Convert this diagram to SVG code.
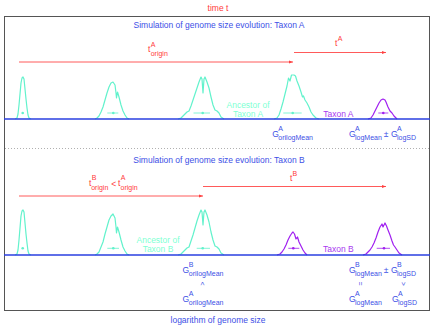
<svg xmlns="http://www.w3.org/2000/svg" width="436" height="328" viewBox="0 0 436 328">
<style>
text { font-family: "Liberation Sans", Arial, Helvetica, sans-serif; }
.t { font-size: 8.5px; }
.bl { fill: #3d4fe6; }
.rd { fill: #ff3a3a; }
.aq { fill: #7fffd4; }
.pu { fill: #a838f0; }
.m { font-size: 8.5px; }
.s { font-size: 7px; }
.arrow { stroke: #ff5a5a; stroke-width: 1; fill: none; marker-end: url(#ah); }
.pkA { fill: none; stroke: #62f2cc; stroke-width: 1.2; stroke-linejoin: round; }
.pkP { fill: none; stroke: #a020f0; stroke-width: 1.2; stroke-linejoin: round; }
.barA { stroke: #62f2cc; stroke-width: 0.8; }
.barP { stroke: #a020f0; stroke-width: 0.8; }
.dotA { fill: #62f2cc; }
.dotP { fill: #a020f0; }
.base { stroke: #2a3fe0; stroke-width: 1.6; }
</style>
<defs>
<marker id="ah" markerUnits="userSpaceOnUse" markerWidth="5" markerHeight="4" refX="4.5" refY="1.6" orient="auto">
<path d="M0,0 L4.5,1.6 L0,3.2 z" fill="#ff4040"/>
</marker>
</defs>
<rect width="436" height="328" fill="#ffffff"/>
<text class="t rd" x="218" y="11" text-anchor="middle">time t</text>
<rect x="4.5" y="16.5" width="425" height="294" fill="none" stroke="#555" stroke-width="1"/>
<line x1="5" y1="148.5" x2="429" y2="148.5" stroke="#b0b0b0" stroke-width="1" stroke-dasharray="1 2"/>

<g id="panel-a">
<text class="t bl" x="219" y="27.5" text-anchor="middle">Simulation of genome size evolution: Taxon A</text>
<g transform="translate(0,119)">
<polyline class="pkA" points="15,0 17,-1 18,-5 19,-14 20,-25 21,-36 22,-41 23,-42 24,-40 25,-30 26,-20 27,-11 28,-4 29,-1 31,0"/>
<polyline class="pkA" points="95,0 97,-1 99,-3 101,-7 103,-12 105,-19 107,-26 109,-32 111,-36 113,-37 115,-34 116,-26 116.5,-21 117.5,-27 119,-22 121,-14 123,-8 125,-4 127,-1 129,0"/>
<polyline class="pkA" points="178,0 181,-1 184,-4 187,-7 189,-8 191,-13 193,-19 195,-25 197,-31 199,-37 201,-42 202,-40 203,-26 204,-40 205,-42 207,-37 209,-31 211,-22 213,-14 215,-9 217,-8 219,-6 221,-2 224,0"/>
<polyline class="pkA" points="274,0 277,-1 279,-4 281,-10 283,-17 285,-25 287,-33 288.5,-41 290,-38 291.5,-44 294,-44 295.5,-43 297,-38 299,-33 301,-27 302.5,-22 303.5,-23 305,-19 307,-16 309,-12 311,-7 313,-4 316,-1 319,0"/>
<polyline class="pkP" points="368,0 371,-1 373,-4 375,-8 377,-12 379,-16 381,-19 383,-20 385,-19 386,-17 388,-12 390,-8 392,-6 394,-3 397,0"/>
<g transform="translate(0,-6)">
<circle class="dotA" cx="22.7" cy="0" r="1.3"/>
<line class="barA" x1="107.3" y1="0" x2="118.3" y2="0"/><circle class="dotA" cx="113.3" cy="0" r="1.3"/>
<line class="barA" x1="193.5" y1="0" x2="210" y2="0"/><circle class="dotA" cx="202.7" cy="0" r="1.3"/>
<line class="barA" x1="283.3" y1="0" x2="301.7" y2="0"/><circle class="dotA" cx="292.7" cy="0" r="1.3"/>
<line class="barP" x1="378.3" y1="0" x2="388.3" y2="0"/><circle class="dotP" cx="383.3" cy="0" r="1.3"/>
</g>
</g>
<text class="t aq" x="248" y="107.5" text-anchor="middle">Ancestor of</text>
<text class="t aq" x="248" y="116.5" text-anchor="middle">Taxon A</text>
<text class="t pu" x="338.3" y="116.5" text-anchor="middle">Taxon A</text>
<line class="base" x1="4" y1="119" x2="430" y2="119"/>
</g>

<g id="panel-b">
<text class="t bl" x="219" y="163" text-anchor="middle">Simulation of genome size evolution: Taxon B</text>
<g transform="translate(0,255)">
<polyline class="pkA" points="15,0 17,-1 18,-5 19,-15 20,-27 21,-39 22,-44 23,-45 24,-43 25,-32 26,-21 27,-12 28,-4 29,-1 31,0"/>
<polyline class="pkA" points="95,0 97,-1 99,-3 101,-8 103,-13 105,-21 107,-28 109,-35 111,-39 113,-41 115,-37 116,-28 116.5,-22 117.5,-28 119,-23 121,-15 123,-8 125,-4 127,-1 129,0"/>
<polyline class="pkA" points="178,0 181,-1 184,-4 187,-7 189,-8 191,-14 193,-20 195,-27 197,-34 199,-40 201,-45 202,-43 203,-30 204,-43 205,-45 207,-40 209,-33 211,-23 213,-15 215,-9 217,-8 219,-6 221,-2 224,0"/>
<polyline class="pkP" points="277,0 280,-1 282,-3 284,-6 286,-10 288,-15 290,-19 292,-22 293,-23 294.5,-21 296,-16 297.5,-18 299,-13 301,-9 303,-5 305,-2 307,0"/>
<polyline class="pkP" points="363,0 366,-1 368,-3 370,-5 372,-8 374,-12 376,-17 378,-23 380,-28 382,-31 383,-28 384,-30 385,-32 386.5,-29 388,-25 390,-20 392,-14 393.5,-10 395,-8 397,-5 399,-2 402,0"/>
<g transform="translate(0,-6.7)">
<circle class="dotA" cx="22.7" cy="0" r="1.3"/>
<line class="barA" x1="107.3" y1="0" x2="119" y2="0"/><circle class="dotA" cx="113.3" cy="0" r="1.3"/>
<line class="barA" x1="196.7" y1="0" x2="210" y2="0"/><circle class="dotA" cx="202.7" cy="0" r="1.3"/>
<line class="barP" x1="288.3" y1="0" x2="299.3" y2="0"/><circle class="dotP" cx="293.3" cy="0" r="1.3"/>
<line class="barP" x1="376.7" y1="0" x2="390" y2="0"/><circle class="dotP" cx="384" cy="0" r="1.3"/>
</g>
</g>
<text class="t aq" x="158" y="242.7" text-anchor="middle">Ancestor of</text>
<text class="t aq" x="158" y="251.8" text-anchor="middle">Taxon B</text>
<text class="t pu" x="338.3" y="251.7" text-anchor="middle">Taxon B</text>
<line class="base" x1="4" y1="255" x2="430" y2="255"/>
</g>

<g id="connectors">
<line class="arrow" x1="19" y1="62" x2="293" y2="62"/>
<line class="arrow" x1="294" y1="52.5" x2="386" y2="52.5"/>
<line class="arrow" x1="19" y1="196" x2="203" y2="196"/>
<line class="arrow" x1="203" y1="186.5" x2="386" y2="186.5"/>
</g>

<g id="time-labels" class="rd">
<text class="m" x="148" y="52">t</text><text class="s" x="150.7" y="47">A</text><text class="s" x="150.7" y="55.5">origin</text>
<text class="m" x="335" y="45.5">t</text><text class="s" x="337.8" y="40.5">A</text>
<text class="m" x="89" y="186">t</text><text class="s" x="91.7" y="180">B</text><text class="s" x="91.2" y="189.8">origin</text>
<text class="m" x="111.3" y="186.5">&lt;</text>
<text class="m" x="118" y="186">t</text><text class="s" x="120.7" y="180">A</text><text class="s" x="120.5" y="189.8">origin</text>
<text class="m" x="290" y="181">t</text><text class="s" x="292.6" y="175.5">B</text>
</g>

<g id="size-labels" class="bl">
<text class="m" x="272.3" y="136.5">G</text><text class="s" x="278.3" y="130.5">A</text><text class="s" x="278.3" y="139.8">orilogMean</text>
<text class="m" x="349" y="136.5">G</text><text class="s" x="355" y="130.5">A</text><text class="s" x="355" y="139.8">logMean</text>
<text class="m" x="383.8" y="136.5">±</text>
<text class="m" x="391" y="136.5">G</text><text class="s" x="397" y="130.5">A</text><text class="s" x="397" y="139.8">logSD</text>

<text class="m" x="182.5" y="272.5">G</text><text class="s" x="188.8" y="266.5">B</text><text class="s" x="188.8" y="276">orilogMean</text>
<text class="m" x="349" y="272.5">G</text><text class="s" x="355" y="266.5">B</text><text class="s" x="355" y="276">logMean</text>
<text class="m" x="383.8" y="272.5">±</text>
<text class="m" x="391" y="272.5">G</text><text class="s" x="397" y="266.5">B</text><text class="s" x="397" y="276">logSD</text>

<text style="font-size:6.5px" x="202" y="283.7" text-anchor="middle" dominant-baseline="central" transform="rotate(90 202 283.7)">&lt;</text>
<text style="font-size:6.5px" x="360.5" y="283.7" text-anchor="middle" dominant-baseline="central" transform="rotate(90 360.5 283.7)">=</text>
<text style="font-size:6.5px" x="403.3" y="283.9" text-anchor="middle" dominant-baseline="central" transform="rotate(90 403.3 283.9)">&gt;</text>

<text class="m" x="182.5" y="301.5">G</text><text class="s" x="188.8" y="295.5">A</text><text class="s" x="188.8" y="305">orilogMean</text>
<text class="m" x="349" y="301.5">G</text><text class="s" x="355" y="295.5">A</text><text class="s" x="355" y="305">logMean</text>
<text class="m" x="392" y="301.5">G</text><text class="s" x="398" y="295.5">A</text><text class="s" x="398" y="305">logSD</text>
</g>

<text class="t bl" x="218" y="322.5" text-anchor="middle">logarithm of genome size</text>
</svg>
